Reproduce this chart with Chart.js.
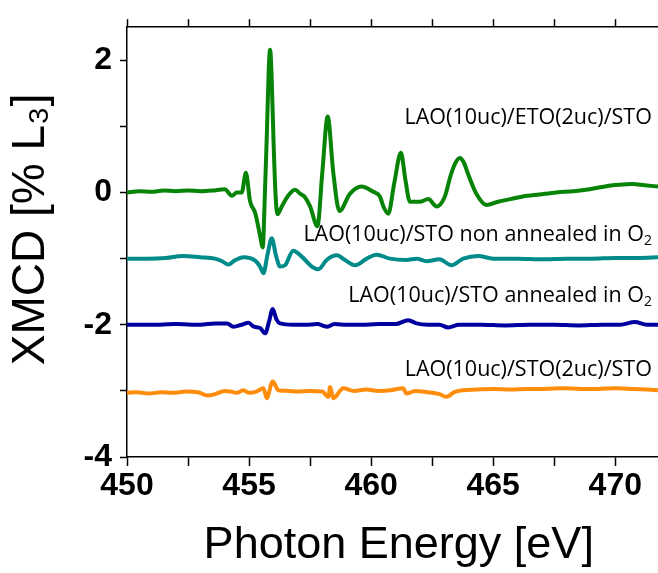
<!DOCTYPE html>
<html>
<head>
<meta charset="utf-8">
<script src="https://cdn.jsdelivr.net/npm/chart.js@4"></script>
<style>
  body { margin: 0; background: #fff; }
  canvas { display: block; }
</style>
</head>
<body>
<canvas id="myChart" width="658" height="573"></canvas>
<script>
// LAO(10uc)/ETO(2uc)/STO, no offset
const etoX = [450, 450.5, 451, 451.5, 452, 452.5, 453, 453.5, 454.0, 454.3, 454.5, 454.7, 454.87, 455.04, 455.25, 455.45, 455.56, 455.65, 455.73, 455.80, 455.86, 455.92, 456.0, 456.08, 456.16, 456.34, 456.6, 456.88, 457.1, 457.29, 457.5, 457.8, 458.0, 458.22, 458.45, 458.7, 459.13, 459.6, 460.09, 460.36, 460.5, 460.7, 460.95, 461.22, 461.4, 461.59, 461.99, 462.34, 462.68, 463.02, 463.25, 463.43, 463.63, 463.8, 463.97, 464.31, 464.72, 465.2, 465.7, 466.22, 466.9, 467.59, 468.3, 468.95, 469.4, 469.9, 470.3, 470.72, 471.2, 471.75];
const etoY = [0.0, 0.02, 0.01, 0.03, 0.02, 0.03, 0.02, 0.03, 0.05, -0.05, 0.0, 0.0, 0.3, -0.13, -0.31, -0.65, -0.83, 0.0, 0.9, 1.8, 2.16, 1.8, 0.8, 0.0, -0.33, -0.21, -0.05, 0.04, -0.02, -0.07, -0.21, -0.51, 0.3, 1.15, 0.3, -0.28, -0.02, 0.09, 0.01, -0.06, -0.21, -0.32, 0.15, 0.6, 0.2, -0.14, -0.14, -0.1, -0.21, -0.06, 0.25, 0.43, 0.52, 0.45, 0.28, -0.02, -0.19, -0.14, -0.1, -0.06, -0.03, 0.0, 0.02, 0.05, 0.08, 0.11, 0.12, 0.13, 0.11, 0.09];

// LAO(10uc)/STO non annealed in O2, offset -1
const nonAnnX = [450, 450.8, 451.6, 452.3, 453.0, 453.6, 453.9, 454.15, 454.4, 454.77, 455.25, 455.45, 455.59, 455.75, 455.93, 456.1, 456.27, 456.47, 456.81, 457.16, 457.57, 457.84, 458.18, 458.59, 458.93, 459.34, 459.82, 460.22, 460.77, 461.45, 461.86, 462.27, 462.8, 463.29, 463.77, 464.38, 465.0, 466, 467, 468, 469, 470, 471, 471.75];
const nonAnnY = [-1.0, -1.0, -0.99, -0.96, -0.98, -1.0, -1.04, -1.09, -1.03, -0.98, -1.03, -1.12, -1.22, -0.95, -0.69, -0.95, -1.12, -1.10, -0.88, -0.97, -1.12, -1.16, -1.02, -0.95, -1.02, -1.10, -1.0, -0.94, -1.0, -1.02, -1.0, -1.04, -1.01, -1.10, -1.0, -0.96, -1.0, -1.0, -1.01, -1.0, -1.0, -0.99, -0.99, -0.98];

// LAO(10uc)/STO annealed in O2, offset -2
const annX = [450, 451, 452, 453, 453.6, 454.1, 454.36, 454.7, 454.97, 455.2, 455.45, 455.66, 455.82, 455.97, 456.12, 456.27, 456.8, 457.3, 457.8, 458.18, 458.5, 459, 459.6, 460.3, 461.0, 461.52, 461.86, 462.3, 462.8, 463.15, 463.6, 464.5, 465.5, 466.5, 467.5, 468.5, 469.5, 470.2, 470.8, 471.3, 471.75];
const annY = [-2.0, -2.0, -1.99, -2.0, -1.98, -1.98, -2.03, -2.0, -1.97, -2.03, -2.05, -2.13, -1.95, -1.76, -1.92, -1.98, -2.0, -2.0, -1.99, -2.03, -1.99, -2.0, -2.0, -1.99, -1.99, -1.93, -1.98, -2.0, -2.0, -2.04, -2.0, -2.0, -2.01, -2.0, -2.0, -2.01, -2.0, -2.0, -1.96, -2.0, -2.0];

// LAO(10uc)/STO(2uc)/STO, offset -3
const stoX = [450, 450.4, 450.9, 451.4, 451.9, 452.4, 452.9, 453.3, 453.6, 454.0, 454.24, 454.5, 454.77, 455.0, 455.3, 455.59, 455.72, 455.97, 456.2, 456.6, 457.0, 457.5, 458.0, 458.25, 458.32, 458.45, 458.86, 459.3, 459.8, 460.3, 460.8, 461.31, 461.45, 461.8, 462.3, 462.8, 463.09, 463.4, 463.77, 464.3, 465, 465.7, 466.4, 467.1, 467.86, 468.6, 469.3, 470, 470.7, 471.3, 471.75];
const stoY = [-3.03, -3.02, -3.04, -3.02, -3.03, -3.01, -3.02, -3.07, -3.05, -3.0, -3.01, -3.03, -2.99, -3.03, -3.01, -2.96, -3.11, -2.86, -2.99, -3.0, -3.01, -3.0, -3.01, -3.09, -2.94, -3.11, -2.96, -3.0, -2.98, -3.0, -2.99, -2.96, -3.04, -3.0, -3.02, -3.05, -3.09, -3.02, -2.99, -2.98, -2.97, -2.98, -2.97, -2.97, -2.96, -2.97, -2.97, -2.96, -2.97, -2.98, -2.99];

// curve labels: main text, subscript, anchor (right end) in data units
const labelText = ["LAO(10uc)/ETO(2uc)/STO", "LAO(10uc)/STO non annealed in O", "LAO(10uc)/STO annealed in O", "LAO(10uc)/STO(2uc)/STO"];
const labelSub = ["", "2", "2", ""];
const labelY = [1.03, -0.74, -1.66, -2.78];
const labelX = 471.5;

const xTicksMajor = 5;
const yTicksMajor = 2;

const pts = (xs, ys) => xs.map((x, i) => ({ x: x, y: ys[i] }));

const curveLabels = {
    id: 'curveLabels',
    afterDatasetsDraw(chart) {
        const c = chart.ctx;
        const sx = chart.scales.x, sy = chart.scales.y;
        const big = '21.5px "Open Sans"', small = '14px "Open Sans"';
        c.save();
        c.fillStyle = '#000';
        c.textBaseline = 'alphabetic';
        c.textAlign = 'left';
        for (let i = 0; i < labelText.length; i++) {
            const px = sx.getPixelForValue(labelX);
            const py = sy.getPixelForValue(labelY[i]);
            c.font = big;
            const w1 = c.measureText(labelText[i]).width;
            c.font = small;
            const w2 = labelSub[i] ? c.measureText(labelSub[i]).width : 0;
            c.font = big;
            c.fillText(labelText[i], px - w1 - w2, py);
            if (labelSub[i]) {
                c.font = small;
                c.fillText(labelSub[i], px - w2, py + 4);
            }
        }
        c.restore();
    }
};

const tickFont = { family: '"Liberation Sans", Arial, sans-serif', size: 32, weight: 'bold' };
const titleFont = { family: '"Liberation Sans", Arial, sans-serif', size: 45 };

new Chart(document.getElementById('myChart'), {
    type: 'line',
    data: {
        datasets: [
            { data: pts(stoX, stoY), borderColor: '#ff8c0a' },
            { data: pts(annX, annY), borderColor: '#00009e' },
            { data: pts(nonAnnX, nonAnnY), borderColor: '#008b8b' },
            { data: pts(etoX, etoY), borderColor: '#078407' }
        ].map(d => Object.assign(d, {
            borderWidth: 4,
            pointRadius: 0,
            cubicInterpolationMode: 'monotone',
            fill: false
        }))
    },
    options: {
        responsive: false,
        animation: false,
        devicePixelRatio: 1,
        layout: { padding: 0 },
        plugins: { legend: { display: false }, tooltip: { enabled: false } },
        scales: {
            x: {
                type: 'linear',
                position: 'bottom',
                min: 450,
                max: 471.75,
                ticks: {
                    stepSize: 2.5,
                    includeBounds: false,
                    autoSkip: false,
                    maxRotation: 0,
                    color: '#000',
                    font: tickFont,
                    padding: 1,
                    callback: v => (v % xTicksMajor === 0 ? v : '')
                },
                grid: { drawOnChartArea: false, tickLength: 9, tickColor: '#000', tickWidth: 1.5 },
                border: { color: '#000', width: 1.5 },
                title: { display: true, text: '\u00a0Photon Energy [eV]', color: '#000', font: titleFont, padding: { top: 0, bottom: 0 } },
                afterFit: s => { s.height = 116; }
            },
            x2: {
                type: 'linear',
                position: 'top',
                min: 450,
                max: 471.75,
                ticks: { display: false, stepSize: 2.5, includeBounds: false },
                grid: { drawOnChartArea: false, tickLength: 8, tickColor: '#000', tickWidth: 1.5 },
                border: { color: '#000', width: 1.5 },
                afterFit: s => { s.height = 16; }
            },
            y: {
                type: 'linear',
                min: -4,
                max: 2.5,
                ticks: {
                    stepSize: 1,
                    includeBounds: false,
                    color: '#000',
                    font: tickFont,
                    padding: 8,
                    callback: v => (v % yTicksMajor === 0 ? v : '')
                },
                grid: { drawOnChartArea: false, tickLength: 7, tickColor: '#000', tickWidth: 1.5 },
                border: { color: '#000', width: 1.5 },
                title: { display: true, text: '\u00a0\u00a0XMCD [% L\u2083]', color: '#000', font: { family: titleFont.family, size: 46 }, padding: { top: 4, bottom: 0 } },
                afterFit: s => { s.width = 127; }
            }
        }
    },
    plugins: [curveLabels]
});
</script>
</body>
</html>
